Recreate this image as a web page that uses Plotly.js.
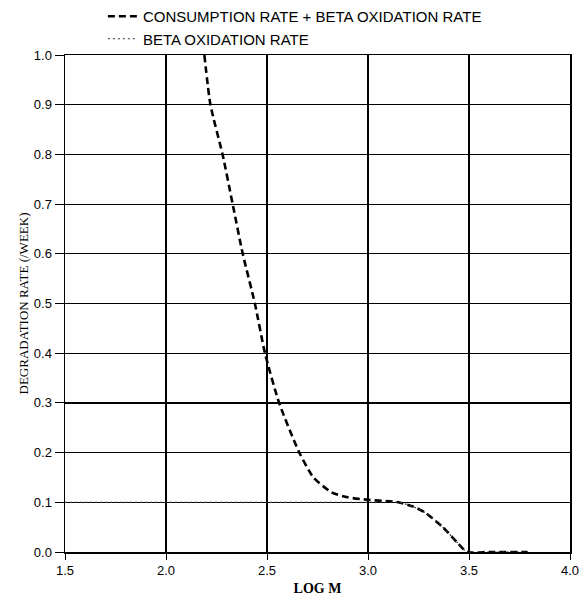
<!DOCTYPE html>
<html>
<head>
<meta charset="utf-8">
<script src="https://cdn.plot.ly/plotly-3.0.1.min.js"></script>
<style>html,body{margin:0;padding:0;background:#fff;}</style>
</head>
<body>
<div id="chart" style="width:585px;height:598px;"></div>
<script>
// Consumption rate + beta oxidation rate
const logM_total = [2.19, 2.22, 2.28, 2.33, 2.38, 2.44, 2.49, 2.56, 2.66, 2.73, 2.82, 2.90, 3.00, 3.07, 3.15, 3.22, 3.28, 3.37, 3.44, 3.49, 3.60, 3.79];
const rate_total = [1.0, 0.9, 0.8, 0.7, 0.6, 0.5, 0.4, 0.3, 0.2, 0.15, 0.12, 0.11, 0.105, 0.103, 0.1, 0.092, 0.08, 0.05, 0.02, 0.0, 0.0, 0.0];
// Beta oxidation rate
const logM_beta = [1.5, 2.0, 2.5, 3.0, 3.15, 3.22, 3.28, 3.37, 3.44, 3.49, 3.60, 3.79];
const rate_beta = [0.1, 0.1, 0.1, 0.1, 0.1, 0.092, 0.08, 0.05, 0.02, 0.0, 0.0, 0.0];
const xTicks = [1.5, 2.0, 2.5, 3.0, 3.5, 4.0];
const xTickLabels = ["1.5", "2.0", "2.5", "3.0", "3.5", "4.0"];
const yTicks = [0, 0.1, 0.2, 0.3, 0.4, 0.5, 0.6, 0.7, 0.8, 0.9, 1.0];
const yTickLabels = ["0.0", "0.1", "0.2", "0.3", "0.4", "0.5", "0.6", "0.7", "0.8", "0.9", "1.0"];

const traces = [
  {x: logM_total, y: rate_total, mode: 'lines', name: 'CONSUMPTION RATE + BETA OXIDATION RATE',
   line: {color: '#000', width: 2.6, dash: '7px,4px', shape: 'spline', smoothing: 0.6}},
  {x: logM_beta, y: rate_beta, mode: 'lines', name: 'BETA OXIDATION RATE',
   line: {color: '#333', width: 1.2, dash: '2px,3px', shape: 'spline', smoothing: 0.6}}
];

const layout = {
  width: 585, height: 598,
  margin: {l: 65, r: 15, t: 52, b: 46},
  paper_bgcolor: '#fff', plot_bgcolor: '#fff',
  font: {family: 'Liberation Sans, Arial, sans-serif', color: '#000', size: 13},
  showlegend: true,
  legend: {x: 0.075, xanchor: 'left', y: 1.0, yanchor: 'top', yref: 'container', orientation: 'v',
           font: {family: 'Liberation Sans, Arial, sans-serif', size: 15, color: '#000'},
           bgcolor: 'rgba(0,0,0,0)', tracegroupgap: 0, itemwidth: 30},
  xaxis: {range: [1.5, 4.0], tickvals: xTicks, ticktext: xTickLabels,
          showgrid: true, gridcolor: '#000', gridwidth: 1.2,
          showline: true, linecolor: '#000', linewidth: 1.5, mirror: true,
          ticks: 'outside', ticklen: 6, tickcolor: '#000', zeroline: false,
          tickfont: {size: 13},
          title: {text: '<b>LOG M</b>', font: {family: 'Liberation Serif, DejaVu Serif, serif', size: 14}, standoff: 6}},
  yaxis: {range: [0, 1.0], tickvals: yTicks, ticktext: yTickLabels,
          showgrid: true, gridcolor: '#000', gridwidth: 1.2,
          showline: true, linecolor: '#000', linewidth: 1.5, mirror: true,
          ticks: 'outside', ticklen: 9, tickcolor: '#000', zeroline: false,
          tickfont: {size: 13},
          title: {text: 'DEGRADATION RATE (/WEEK)', font: {family: 'Liberation Serif, DejaVu Serif, serif', size: 13}, standoff: 2}}
};

Plotly.newPlot('chart', traces, layout, {displayModeBar: false, staticPlot: true});
</script>
</body>
</html>
